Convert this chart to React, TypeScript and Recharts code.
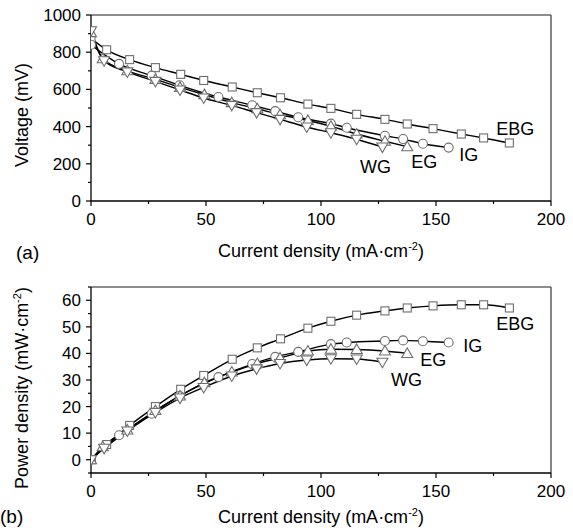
import React from 'react';
import { LineChart, Line, XAxis, YAxis, ReferenceLine, Label } from 'recharts';

// ---- Data ----
const seriesNames = ['EBG', 'IG', 'EG', 'WG'];

const ebgCurrent = [0, 6.8, 16.8, 28, 39, 49, 61.4, 72.3, 82.4, 94.3, 104.3, 115.5, 127.8, 137.5, 148.7, 161, 170.7, 181.9];
const ebgVoltage = [875, 813, 760, 717, 681, 648, 613, 582, 555, 521, 498, 466, 439, 414, 389, 360, 339, 312];
const ebgPower = [0, 5.7, 12.9, 20, 26.5, 31.7, 37.8, 42.1, 45.5, 49.5, 52.1, 54.4, 56, 57.1, 57.9, 58.3, 58.3, 57.1];

const igCurrent = [0, 12.2, 26.4, 38.5, 55.4, 70.1, 80.1, 90.1, 104.3, 111.2, 127.8, 135.7, 144.3, 155.5];
const igVoltage = [840, 737, 674, 622, 559, 515, 483, 450, 416, 394, 351, 333, 308, 287];
const igPower = [0, 9.2, 17.3, 24, 31.1, 36, 38.7, 40.6, 43.5, 44.1, 44.7, 44.9, 44.6, 44.1];

const egCurrent = [0, 5.1, 15.8, 28, 38.7, 49.3, 61.2, 72.3, 82.2, 94.3, 104.3, 115.5, 127.8, 137.5];
const egVoltage = [905, 765, 700, 654, 611, 572, 529, 496, 464, 433, 402, 360, 321, 292];
const egPower = [0, 4.9, 11.2, 18.5, 24, 29, 33, 36.2, 38.3, 40.9, 41.6, 41.5, 40.9, 40];

const wgCurrent = [0, 5.7, 15.8, 28, 38.7, 49, 61.2, 72, 82.2, 93.8, 104.3, 115.5, 126.7];
const wgVoltage = [915, 754, 694, 643, 597, 554, 514, 475, 439, 398, 367, 332, 290];
const wgPower = [0, 4.3, 10.8, 17.8, 23.2, 27.2, 31.5, 34.2, 36.2, 37.5, 38, 37.9, 36.7];

const xTicks = [0, 25, 50, 75, 100, 125, 150, 175, 200];
const voltageTicks = [0, 100, 200, 300, 400, 500, 600, 700, 800, 900, 1000];
const powerTicks = [-5, 0, 5, 10, 15, 20, 25, 30, 35, 40, 45, 50, 55, 60, 65];

// ---- Styling ----
const FONT = '"Liberation Sans", Arial, Helvetica, sans-serif';
const MARKER_STROKE = '#6e6e6e';
const shapes = ['square', 'circle', 'up', 'down'];

const rows = (xs: number[], ys: number[]) => xs.map((i, k) => ({ i, y: ys[k] }));

function drawShape(shape: string, cx: number, cy: number) {
  const common = { fill: '#fff', stroke: MARKER_STROKE, strokeWidth: 1.1 };
  if (shape === 'square') return <rect x={cx - 4} y={cy - 4} width={8} height={8} {...common} />;
  if (shape === 'circle') return <circle cx={cx} cy={cy} r={4.5} {...common} />;
  if (shape === 'up') return <polygon points={`${cx},${cy - 5.5} ${cx + 5.5},${cy + 4} ${cx - 5.5},${cy + 4}`} {...common} />;
  return <polygon points={`${cx - 5.5},${cy - 4} ${cx + 5.5},${cy - 4} ${cx},${cy + 5.5}`} {...common} />;
}

function makeDot(shape: string, name: string, lastIndex: number, off: [number, number]) {
  return (props: any) => {
    const { cx, cy, index } = props;
    if (cx == null || cy == null) return <g key={`d-${name}-${index}`} />;
    return (
      <g key={`d-${name}-${index}`}>
        {drawShape(shape, cx, cy)}
        {index === lastIndex ? (
          <text x={cx + off[0]} y={cy + off[1]} textAnchor="middle" fontFamily={FONT} fontSize={18} fill="#000">
            {name}
          </text>
        ) : null}
      </g>
    );
  };
}

const XTick = (props: any) => {
  const { x, y, payload } = props;
  const major = payload.value % 50 === 0;
  return (
    <g>
      <line x1={x} x2={x} y1={y} y2={y + (major ? 5 : 3)} stroke="#000" strokeWidth={1.2} />
      {major ? (
        <text x={x} y={y + 24} textAnchor="middle" fontFamily={FONT} fontSize={17} fill="#000">
          {payload.value}
        </text>
      ) : null}
    </g>
  );
};

const makeYTick = (majorStep: number, labelMin: number, labelMax: number) => (props: any) => {
  const { x, y, payload } = props;
  const v = payload.value;
  const major = v % majorStep === 0;
  const labeled = major && v >= labelMin && v <= labelMax;
  return (
    <g>
      <line x1={x} x2={x - (major ? 5 : 3)} y1={y} y2={y} stroke="#000" strokeWidth={1.2} />
      {labeled ? (
        <text x={x - 10} y={y + 6} textAnchor="end" fontFamily={FONT} fontSize={17} fill="#000">
          {v}
        </text>
      ) : null}
    </g>
  );
};

const makeXTitle = (dy: number) => (props: any) => {
  const vb = props.viewBox || {};
  const cx = vb.x + vb.width / 2;
  const y = vb.y + dy;
  return (
    <text x={cx} y={y} textAnchor="middle" fontFamily={FONT} fontSize={18} fill="#000">
      <tspan>Current density (mA·cm</tspan>
      <tspan fontSize={11} dy={-7}>-2</tspan>
      <tspan dy={7}>)</tspan>
    </text>
  );
};

const makeYTitle = (text: string, sup: string | null, shift: number) => (props: any) => {
  const vb = props.viewBox || {};
  const cx = 22;
  const cy = vb.y + vb.height / 2 + shift;
  const bx = cx + 6.4;
  return (
    <text x={bx} y={cy} transform={`rotate(-90, ${bx}, ${cy})`} textAnchor="middle" fontFamily={FONT} fontSize={18} fill="#000">
      <tspan>{text}</tspan>
      {sup ? (
        <>
          <tspan fontSize={11} dy={-7}>{sup}</tspan>
          <tspan dy={7}>)</tspan>
        </>
      ) : null}
    </text>
  );
};

type PanelProps = {
  series: { name: string; data: { i: number; y: number }[]; off: [number, number] }[];
  yDomain: [number, number];
  yTicks: number[];
  yTick: (p: any) => any;
  yTitle: (p: any) => any;
  xTitle: (p: any) => any;
  height: number;
  bottom: number;
};

function Panel(p: PanelProps) {
  return (
    <LineChart width={573} height={p.height} margin={{ top: 15, right: 22, left: 0, bottom: p.bottom }}>
      <XAxis
        type="number"
        dataKey="i"
        domain={[0, 200]}
        ticks={xTicks}
        allowDataOverflow
        tickSize={0}
        tickMargin={0}
        tickLine={false}
        tick={<XTick />}
        axisLine={{ stroke: '#000', strokeWidth: 1.3 }}
        height={30}
        interval={0}
      >
        <Label content={p.xTitle} />
      </XAxis>
      <YAxis
        type="number"
        domain={p.yDomain}
        ticks={p.yTicks}
        allowDataOverflow
        tickSize={0}
        tickMargin={0}
        tickLine={false}
        tick={p.yTick}
        axisLine={{ stroke: '#000', strokeWidth: 1.3 }}
        width={91}
        interval={0}
      >
        <Label content={p.yTitle} />
      </YAxis>
      <ReferenceLine y={p.yDomain[1]} stroke="#666" strokeWidth={1.5} />
      <ReferenceLine x={200} stroke="#444" strokeWidth={1.3} />
      {p.series.map((s, k) => (
        <Line
          key={s.name}
          data={s.data}
          dataKey="y"
          type="monotone"
          stroke="#000"
          strokeWidth={1.4}
          dot={makeDot(shapes[k], s.name, s.data.length - 1, s.off)}
          activeDot={false}
          isAnimationActive={false}
        />
      ))}
    </LineChart>
  );
}

export default function App() {
  const topSeries = [
    { name: seriesNames[0], data: rows(ebgCurrent, ebgVoltage), off: [6, -8] as [number, number] },
    { name: seriesNames[1], data: rows(igCurrent, igVoltage), off: [20, 13] as [number, number] },
    { name: seriesNames[2], data: rows(egCurrent, egVoltage), off: [17, 21] as [number, number] },
    { name: seriesNames[3], data: rows(wgCurrent, wgVoltage), off: [-7, 26] as [number, number] },
  ];
  const bottomSeries = [
    { name: seriesNames[0], data: rows(ebgCurrent, ebgPower), off: [6, 22] as [number, number] },
    { name: seriesNames[1], data: rows(igCurrent, igPower), off: [24, 9] as [number, number] },
    { name: seriesNames[2], data: rows(egCurrent, egPower), off: [26, 13] as [number, number] },
    { name: seriesNames[3], data: rows(wgCurrent, wgPower), off: [24, 24] as [number, number] },
  ];
  return (
    <div style={{ position: 'absolute', left: 0, top: 0, width: 573, height: 528, background: '#fff', overflow: 'hidden' }}>
      <div style={{ position: 'absolute', left: 0, top: 0 }}>
        <Panel
          series={topSeries}
          yDomain={[0, 1000]}
          yTicks={voltageTicks}
          yTick={makeYTick(200, 0, 1000)}
          yTitle={makeYTitle('Voltage (mV)', null, 7)}
          xTitle={makeXTitle(56)}
          height={270}
          bottom={39}
        />
      </div>
      <div style={{ position: 'absolute', left: 0, top: 272 }}>
        <Panel
          series={bottomSeries}
          yDomain={[-5, 65]}
          yTicks={powerTicks}
          yTick={makeYTick(10, 0, 60)}
          yTitle={makeYTitle('Power density (mW·cm', '-2', 8)}
          xTitle={makeXTitle(50)}
          height={256}
          bottom={25}
        />
      </div>
      <svg style={{ position: 'absolute', left: 0, top: 0, pointerEvents: 'none' }} width={573} height={528}>
        <text x={16} y={259} fontFamily={FONT} fontSize={19} fill="#000">(a)</text>
        <text x={0} y={523} fontFamily={FONT} fontSize={19} fill="#000">(b)</text>
      </svg>
    </div>
  );
}
